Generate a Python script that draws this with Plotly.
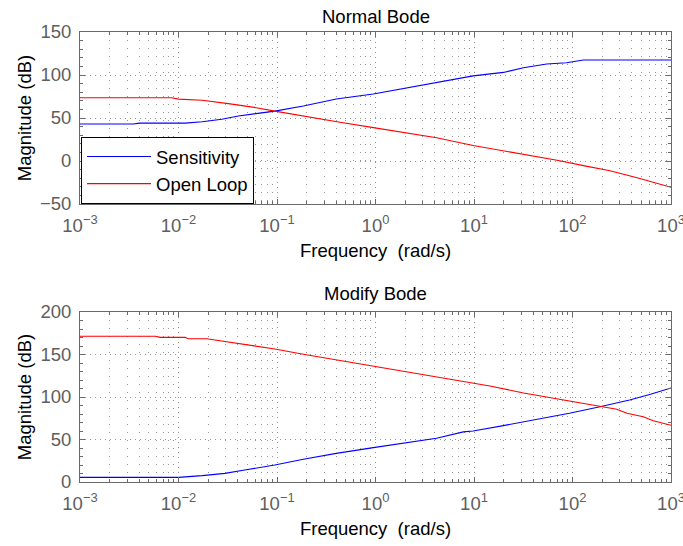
import plotly.graph_objects as go

# ---- data ----
top_sens_f = [0.001, 0.0035, 0.004, 0.0117, 0.0174, 0.0275, 0.0406, 0.06, 0.095, 0.185, 0.40, 0.95,
              1.9, 3.05, 5.7, 9.8, 19.9, 31.8, 54.7, 87, 129, 1000]
top_sens_db = [43, 43, 44, 44, 45.7, 48.5, 52.3, 55, 58, 64, 72, 78,
               84.5, 88.4, 94, 99, 103, 108.5, 112.8, 114.3, 117.5, 117.5]

top_ol_f = [0.001, 0.0085, 0.01, 0.0174, 0.032, 0.047, 0.0615, 0.095, 0.216, 0.436, 0.95, 1.9,
            4.17, 9.8, 19.9, 37, 69.7, 129, 240, 453, 716, 1000]
top_ol_db = [73.5, 73.5, 72, 70.6, 66.7, 64, 62, 58, 50.8, 45, 38.8, 33.3,
             27, 18, 12, 6.2, 0.8, -5.4, -11.3, -19.4, -25.6, -30.6]

bot_sens_f = [0.001, 0.01, 0.0174, 0.0296, 0.047, 0.07, 0.095, 0.185, 0.40, 0.95, 1.9, 4.17,
              7.8, 9.8, 19.9, 59, 93, 190, 380, 620, 1000]
bot_sens_db = [5.5, 5.5, 7.5, 10.2, 14.1, 17.3, 20, 26.7, 33.7, 40.4, 45.9, 51.4,
               59, 60, 66.3, 76.5, 80.8, 88.6, 96.5, 103.2, 110.6]

bot_ol_f = [0.001, 0.0058, 0.0065, 0.0117, 0.0125, 0.0193, 0.0234, 0.037, 0.065, 0.095, 0.185,
            0.40, 0.95, 1.9, 4.17, 9.8, 14.5, 31.8, 59, 93, 190, 282, 357, 523, 660, 1000]
bot_ol_db = [171.5, 171.5, 170.2, 170.2, 168.6, 168.6, 167, 163.5, 159.2, 156.5, 150.2,
             143.5, 136.5, 129.8, 123.2, 115.7, 113, 104.7, 99.2, 94.5, 88.6, 85.5, 80.8, 76.8, 72.1, 66.7]

x_tickvals = [1e-3, 1e-2, 1e-1, 1e0, 1e1, 1e2, 1e3]
x_ticktext = ["10<sup>−3</sup>", "10<sup>−2</sup>", "10<sup>−1</sup>", "10<sup>0</sup>",
              "10<sup>1</sup>", "10<sup>2</sup>", "10<sup>3</sup>"]
x_minor = [m * 10.0 ** e for e in range(-3, 3) for m in range(2, 10)]

titles = ["Normal Bode", "Modify Bode"]
series_names = ["Sensitivity", "Open Loop"]
colors = ["#0000ff", "#ff0000"]

FONT = "Liberation Sans, Arial, sans-serif"
FS = 18.5
AX = "#6a6a6a"
GRID = "#959595"
TICKCOL = "#5e5e5e"

fig = go.Figure()
fig.add_trace(go.Scatter(x=top_sens_f, y=top_sens_db, mode="lines", name=series_names[0],
                         line=dict(color=colors[0], width=1.1), xaxis="x", yaxis="y"))
fig.add_trace(go.Scatter(x=top_ol_f, y=top_ol_db, mode="lines", name=series_names[1],
                         line=dict(color=colors[1], width=1.1), xaxis="x", yaxis="y"))
fig.add_trace(go.Scatter(x=bot_sens_f, y=bot_sens_db, mode="lines", showlegend=False,
                         line=dict(color=colors[0], width=1.1), xaxis="x2", yaxis="y2"))
fig.add_trace(go.Scatter(x=bot_ol_f, y=bot_ol_db, mode="lines", showlegend=False,
                         line=dict(color=colors[1], width=1.1), xaxis="x2", yaxis="y2"))

W, H = 683, 546
xdom = [80 / W, 671 / W]


def xaxis(anchor):
    return dict(type="log", range=[-3, 3], domain=xdom, anchor=anchor, automargin=False,
                tickvals=x_tickvals, ticktext=x_ticktext,
                ticks="inside", ticklen=5, tickcolor=AX, tickwidth=1,
                showline=True, linecolor=AX, linewidth=1, mirror="ticks",
                showgrid=True, gridcolor=GRID, griddash="1px,4px", gridwidth=1,
                tickfont=dict(family=FONT, size=FS, color=TICKCOL),
                ticklabelstandoff=5, ticklabeloverflow="allow",
                zeroline=False,
                minor=dict(tickvals=x_minor, ticks="inside", ticklen=3, tickcolor=AX,
                           showgrid=True, gridcolor=GRID, griddash="1px,7px", gridwidth=1),
                title=dict(text="Frequency\u00a0 (rad/s)", font=dict(family=FONT, size=FS, color="black"),
                           standoff=8))


def yaxis(anchor, rng, dom):
    return dict(range=rng, domain=dom, anchor=anchor, dtick=50, tick0=0, automargin=False,
                ticks="inside", ticklen=5, tickcolor=AX, tickwidth=1,
                showline=True, linecolor=AX, linewidth=1, mirror="ticks",
                showgrid=True, gridcolor=GRID, griddash="1px,4px", gridwidth=1,
                tickfont=dict(family=FONT, size=FS, color=TICKCOL),
                ticklabelstandoff=4, ticklabeloverflow="allow",
                zeroline=False,
                minor=dict(dtick=10, ticks="inside", ticklen=3, tickcolor=AX, showgrid=False),
                title=dict(text="Magnitude (dB)", font=dict(family=FONT, size=FS, color="black"),
                           standoff=3))


fig.update_layout(
    width=W, height=H,
    margin=dict(l=0, r=0, t=0, b=0, autoexpand=False),
    paper_bgcolor="white", plot_bgcolor="white",
    font=dict(family=FONT, size=FS, color="black"),
    xaxis=xaxis("y"),
    yaxis=yaxis("x", [-50, 150], [1 - 204 / H, 1 - 32 / H]),
    xaxis2=xaxis("y2"),
    yaxis2=yaxis("x2", [0, 200], [1 - 482 / H, 1 - 312 / H]),
    legend=dict(x=81 / W, y=1 - 137 / H, xanchor="left", yanchor="top",
                bgcolor="white", bordercolor="black", borderwidth=1,
                font=dict(family=FONT, size=FS, color="black"),
                itemwidth=64, tracegroupgap=0),
    showlegend=True,
    annotations=[
        dict(text=titles[0], x=(xdom[0] + xdom[1]) / 2, y=1 - 16 / H, xref="paper", yref="paper",
             showarrow=False, font=dict(family=FONT, size=FS, color="black"), yanchor="middle"),
        dict(text=titles[1], x=(xdom[0] + xdom[1]) / 2, y=1 - 293 / H, xref="paper", yref="paper",
             showarrow=False, font=dict(family=FONT, size=FS, color="black"), yanchor="middle"),
    ],
)

fig.write_html("out.html")
